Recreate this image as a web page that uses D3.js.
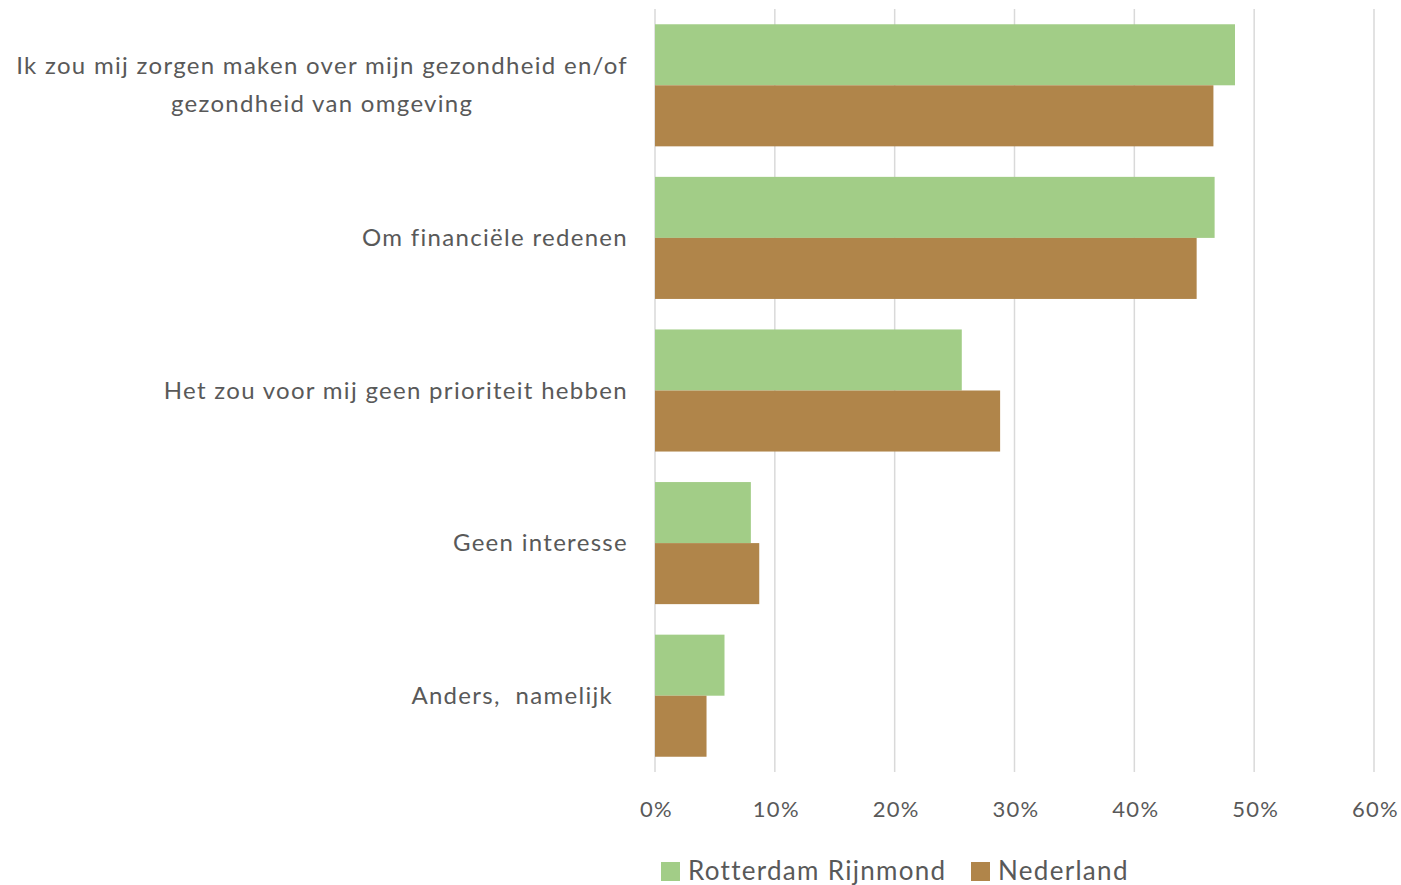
<!DOCTYPE html>
<html><head><meta charset="utf-8">
<script src="https://cdn.jsdelivr.net/npm/d3@7"></script>
<style>
html,body{margin:0;padding:0;background:#fff;}
svg text{font-family:"Lato","Open Sans",sans-serif;fill:#595959;letter-spacing:1.3px;}
</style></head>
<body><svg id="chart" width="1401" height="885"></svg>
<script>
const categories = [
  ["Ik zou mij zorgen maken over mijn gezondheid en/of", "gezondheid van omgeving"],
  ["Om financiële redenen"],
  ["Het zou voor mij geen prioriteit hebben"],
  ["Geen interesse"],
  ["Anders,  namelijk  "]
];
const seriesNames = ["Rotterdam Rijnmond", "Nederland"];
const rotterdam = [48.4, 46.7, 25.6, 8.0, 5.8];
const nederland = [46.6, 45.2, 28.8, 8.7, 4.3];
const colors = ["#a2cd87", "#b0854a"];
const ticks = [0, 10, 20, 30, 40, 50, 60];

(function () {
const svg = d3.select("#chart");
const pLeft = 655, pRight = 1374, pTop = 9, pBottom = 772;
const labelRight = 628;

const x = d3.scaleLinear().domain([0, 60]).range([pLeft, pRight]);
const y = d3.scaleBand().domain(d3.range(categories.length)).range([pTop, pBottom]).paddingInner(0.2).paddingOuter(0.1);
const sub = d3.scaleBand().domain([0, 1]).range([0, y.bandwidth()]);

svg.append("g").selectAll("line").data(ticks).join("line")
  .attr("x1", d => x(d)).attr("x2", d => x(d))
  .attr("y1", pTop).attr("y2", pBottom)
  .attr("stroke", "#d9d9d9").attr("stroke-width", 1.5);

const series = [rotterdam, nederland];
series.forEach((vals, s) => {
  svg.append("g").selectAll("rect").data(vals).join("rect")
    .attr("x", x(0))
    .attr("y", (d, i) => y(i) + sub(s))
    .attr("width", d => x(d) - x(0))
    .attr("height", sub.bandwidth())
    .attr("fill", colors[s]);
});

const xAxis = d3.axisBottom(x).tickValues(ticks).tickFormat(d => d + "%").tickSize(0).tickPadding(0);
const ax = svg.append("g").attr("transform", `translate(0,${pBottom + 45})`).call(xAxis);
ax.select(".domain").remove();
ax.selectAll("text").attr("font-size", 22).attr("dy", 0).attr("dx", 1).style("font-family", "Lato, 'Open Sans', sans-serif").attr("fill", "#595959");

categories.forEach((lines, i) => {
  const cy = y(i) + y.bandwidth() / 2;
  const lh = 38;
  const g = svg.append("text").attr("font-size", 24);
  if (lines.length === 1) {
    g.attr("x", labelRight).attr("y", cy + 8).attr("text-anchor", "end").style("white-space", "pre").text(lines[0]);
  } else {
    const tmp = svg.append("text").attr("font-size", 24).text(lines[0]);
    const w = tmp.node().getComputedTextLength();
    tmp.remove();
    const cx = labelRight - w / 2;
    g.attr("text-anchor", "middle");
    lines.forEach((l, k) => {
      g.append("tspan").attr("x", cx).attr("y", cy + 8 - lh / 2 + k * lh).text(l);
    });
  }
});

const legend = svg.append("g");
const legendX = [661, 971];
seriesNames.forEach((n, s) => {
  legend.append("rect").attr("x", legendX[s]).attr("y", 862).attr("width", 19).attr("height", 19).attr("fill", colors[s]);
  legend.append("text").attr("x", legendX[s] + 27).attr("y", 880).attr("font-size", 26).text(n);
});
})();
</script></body></html>
